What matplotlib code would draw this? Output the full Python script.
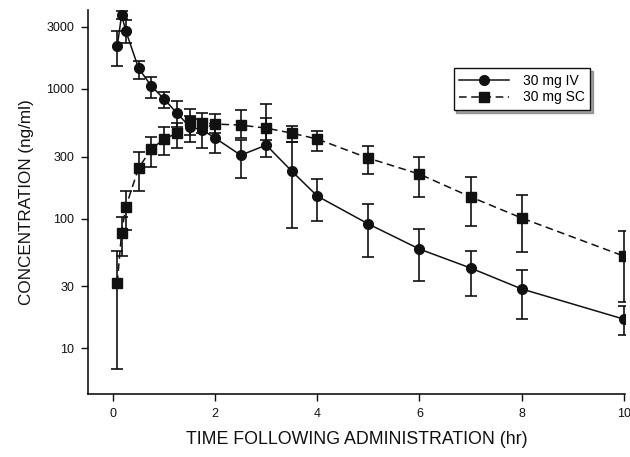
#######################################
#### Plasma concentration vs time, 30 mg IV / SC
#######################################
import matplotlib
matplotlib.use("Agg")
import matplotlib.pyplot as plt
from matplotlib.lines import Line2D
import numpy as np

plt.rcParams['font.family'] = ['Liberation Sans', 'DejaVu Sans']

#######################################
#### Data
#######################################
time_hr = [0.083, 0.167, 0.25, 0.5, 0.75, 1.0, 1.25, 1.5, 1.75, 2.0,
           2.5, 3.0, 3.5, 4.0, 5.0, 6.0, 7.0, 8.0, 10.0]

iv_conc = [2130, 3700, 2790, 1440, 1050, 834, 650, 510, 481, 417,
           308, 368, 232, 149, 90.8, 58.2, 41.6, 28.7, 16.8]
iv_hi   = [2790, 3950, 3390, 1630, 1230, 944, 805, 620, 580, 520,
           402, 600, 388, 201, 129, 83, 56.2, 40.1, 21.2]
iv_lo   = [1500, 3450, 2250, 1190, 848, 710, 508, 390, 349, 320,
           205, 300, 84.6, 95.7, 50.5, 33, 25.3, 16.8, 12.7]

sc_conc = [31.8, 77.4, 123, 245, 343, 410, 455, 560, 545, 535,
           525, 498, 455, 410, 292, 220, 147, 101, 51.4]
sc_hi   = [56.2, 103, 163, 325, 425, 508, 543, 700, 650, 640,
           686, 762, 515, 472, 361, 298, 209, 152, 80.2]
sc_lo   = [6.9, 51.4, 81.5, 163, 250, 308, 349, 440, 460, 457,
           417, 403, 388, 331, 220, 147, 87.5, 55.2, 22.8]

x_ticks = [0, 2, 4, 6, 8, 10]
y_ticks = [10, 30, 100, 300, 1000, 3000]
legend_labels = ['30 mg IV', '30 mg SC']

#######################################
#### Plot
#######################################
fig = plt.figure(figsize=(6.3, 4.57), dpi=100)
ax = fig.add_axes([0.1397, 0.1379, 0.852, 0.840])

ink = '#111111'
sc_dash = (0, (5, 3))

iv = np.array(iv_conc)
sc = np.array(sc_conc)
iv_err = [iv - np.array(iv_lo), np.array(iv_hi) - iv]
sc_err = [sc - np.array(sc_lo), np.array(sc_hi) - sc]

ax.errorbar(time_hr, sc_conc, yerr=sc_err, color=ink, ls=sc_dash,
            lw=1.1, marker='s', ms=6.5, capsize=4, elinewidth=1.2,
            capthick=1.2, zorder=3)
ax.errorbar(time_hr, iv_conc, yerr=iv_err, color=ink, ls='-',
            lw=1.1, marker='o', ms=7, capsize=4, elinewidth=1.2,
            capthick=1.2, zorder=4)

ax.set_yscale('log')
ax.set_xlim(-0.49, 10.02)
ax.set_ylim(4.45, 4040)
ax.set_xticks(x_ticks)
ax.set_xticklabels([str(v) for v in x_ticks])
ax.set_yticks(y_ticks)
ax.set_yticklabels([str(v) for v in y_ticks])
ax.yaxis.set_minor_locator(matplotlib.ticker.NullLocator())
ax.tick_params(axis='both', direction='out', length=5, width=1,
               labelsize=9, color=ink, labelcolor=ink, pad=5)

ax.spines['top'].set_visible(False)
ax.spines['right'].set_visible(False)
ax.spines['left'].set_linewidth(1.1)
ax.spines['bottom'].set_linewidth(1.1)

ax.set_xlabel('TIME FOLLOWING ADMINISTRATION (hr)', fontsize=12.8,
              color=ink, labelpad=8)
ax.set_ylabel('CONCENTRATION (ng/ml)', fontsize=12.3, color=ink, labelpad=9)

#### legend: plain line + marker handles, small drop shadow
handles = [Line2D([], [], color=ink, lw=1.1, marker='o', ms=7),
           Line2D([], [], color=ink, lw=1.1, ls=sc_dash, marker='s', ms=6.5)]
leg = ax.legend(handles, legend_labels, loc='upper right',
                bbox_to_anchor=(0.936, 0.849), fontsize=10,
                fancybox=False, shadow=True, edgecolor=ink,
                handlelength=3.6, handletextpad=1.0, borderpad=0.4,
                labelspacing=0.2, borderaxespad=0)
leg.get_frame().set_linewidth(1.0)

fig.savefig('out.png', dpi=100)
